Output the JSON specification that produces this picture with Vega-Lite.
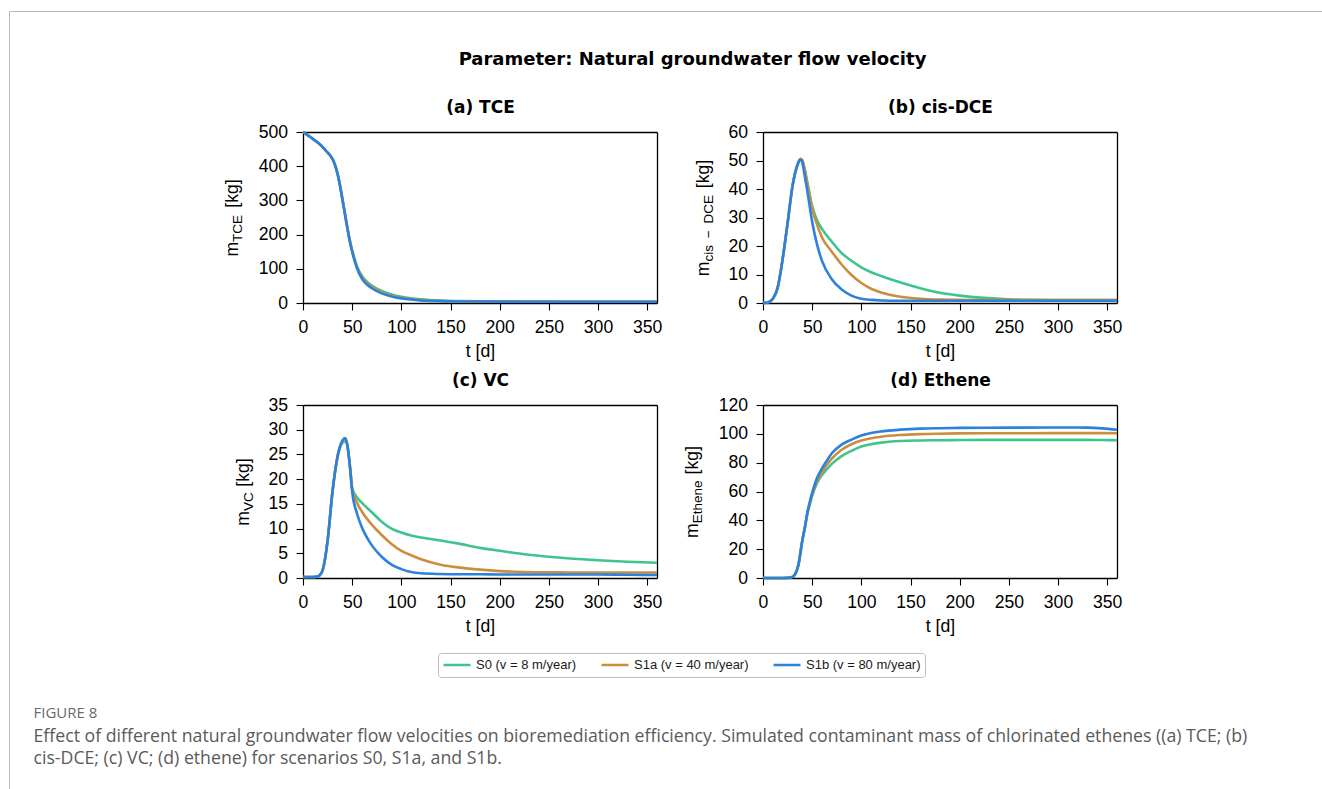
{
  "$schema": "https://vega.github.io/schema/vega-lite/v6.json",
  "width": 1320,
  "height": 790,
  "padding": {"left": 9, "top": 11, "right": 0, "bottom": 0},
  "background": "#ffffff",
  "config": {
    "view": {"stroke": "#b9b9b9", "strokeWidth": 1},
    "axis": {
      "grid": false,
      "domainColor": "#000000",
      "domainWidth": 1.3,
      "tickColor": "#000000",
      "tickWidth": 1.1,
      "tickSize": 7,
      "labelFont": "Liberation Sans",
      "labelFontSize": 17.6,
      "labelColor": "#000000",
      "labelPadding": 8.5,
      "labelFlush": false,
      "labelOverlap": false,
      "labelBound": false,
      "titleFont": "Liberation Sans",
      "titleFontSize": 17.6,
      "titleFontWeight": "normal",
      "titleColor": "#000000",
      "titleBaseline": "alphabetic",
      "titleLimit": 2000
    },
    "legend": {
      "orient": "none",
      "legendX": 429,
      "legendY": 642,
      "direction": "horizontal",
      "columns": 3,
      "symbolType": "stroke",
      "symbolSize": 729,
      "symbolStrokeWidth": 2.5,
      "labelFont": "Liberation Sans",
      "labelFontSize": 13,
      "labelColor": "#1a1a1a",
      "labelOffset": 4,
      "labelLimit": 300,
      "columnPadding": 23,
      "clipHeight": 16,
      "padding": 4,
      "strokeColor": "#bdbdbd",
      "fillColor": "#ffffff",
      "cornerRadius": 3
    }
  },
  "datasets": {
    "tce": [
      {"t":0,"s":"S0","m":500},{"t":5,"s":"S0","m":490},{"t":10,"s":"S0","m":480},{"t":15,"s":"S0","m":469},{"t":20,"s":"S0","m":456},{"t":24,"s":"S0","m":443},{"t":28,"s":"S0","m":430},{"t":30,"s":"S0","m":421},{"t":32,"s":"S0","m":408},{"t":34,"s":"S0","m":390},{"t":36,"s":"S0","m":367},{"t":38,"s":"S0","m":338},{"t":40,"s":"S0","m":305},{"t":42,"s":"S0","m":272},{"t":44,"s":"S0","m":239},{"t":46,"s":"S0","m":207},{"t":48,"s":"S0","m":179},{"t":50,"s":"S0","m":154},{"t":55,"s":"S0","m":107},{"t":60,"s":"S0","m":79},{"t":65,"s":"S0","m":62},{"t":70,"s":"S0","m":51},{"t":80,"s":"S0","m":35},{"t":90,"s":"S0","m":25},{"t":100,"s":"S0","m":18},{"t":110,"s":"S0","m":13.5},{"t":120,"s":"S0","m":10.5},{"t":140,"s":"S0","m":7},{"t":160,"s":"S0","m":5.5},{"t":200,"s":"S0","m":4.5},{"t":250,"s":"S0","m":4},{"t":300,"s":"S0","m":3.5},{"t":360,"s":"S0","m":3.5},
      {"t":0,"s":"S1a","m":500},{"t":5,"s":"S1a","m":490},{"t":10,"s":"S1a","m":480},{"t":15,"s":"S1a","m":469},{"t":20,"s":"S1a","m":456},{"t":24,"s":"S1a","m":443},{"t":28,"s":"S1a","m":430},{"t":30,"s":"S1a","m":421},{"t":32,"s":"S1a","m":408},{"t":34,"s":"S1a","m":390},{"t":36,"s":"S1a","m":367},{"t":38,"s":"S1a","m":338},{"t":40,"s":"S1a","m":305},{"t":42,"s":"S1a","m":272},{"t":44,"s":"S1a","m":238},{"t":46,"s":"S1a","m":206},{"t":48,"s":"S1a","m":177},{"t":50,"s":"S1a","m":152},{"t":55,"s":"S1a","m":104},{"t":60,"s":"S1a","m":75},{"t":65,"s":"S1a","m":58},{"t":70,"s":"S1a","m":47},{"t":80,"s":"S1a","m":31},{"t":90,"s":"S1a","m":21.5},{"t":100,"s":"S1a","m":15.5},{"t":110,"s":"S1a","m":11.5},{"t":120,"s":"S1a","m":8.5},{"t":140,"s":"S1a","m":6},{"t":160,"s":"S1a","m":5},{"t":200,"s":"S1a","m":4},{"t":250,"s":"S1a","m":3.5},{"t":300,"s":"S1a","m":3.5},{"t":360,"s":"S1a","m":3.5},
      {"t":0,"s":"S1b","m":500},{"t":5,"s":"S1b","m":490},{"t":10,"s":"S1b","m":480},{"t":15,"s":"S1b","m":469},{"t":20,"s":"S1b","m":456},{"t":24,"s":"S1b","m":443},{"t":28,"s":"S1b","m":430},{"t":30,"s":"S1b","m":421},{"t":32,"s":"S1b","m":408},{"t":34,"s":"S1b","m":390},{"t":36,"s":"S1b","m":367},{"t":38,"s":"S1b","m":338},{"t":40,"s":"S1b","m":305},{"t":42,"s":"S1b","m":271},{"t":44,"s":"S1b","m":237},{"t":46,"s":"S1b","m":205},{"t":48,"s":"S1b","m":175},{"t":50,"s":"S1b","m":150},{"t":55,"s":"S1b","m":101},{"t":60,"s":"S1b","m":71},{"t":65,"s":"S1b","m":54},{"t":70,"s":"S1b","m":43},{"t":80,"s":"S1b","m":28},{"t":90,"s":"S1b","m":19},{"t":100,"s":"S1b","m":13.5},{"t":110,"s":"S1b","m":10},{"t":120,"s":"S1b","m":7.5},{"t":140,"s":"S1b","m":5.5},{"t":160,"s":"S1b","m":4.5},{"t":200,"s":"S1b","m":4},{"t":250,"s":"S1b","m":3.5},{"t":300,"s":"S1b","m":3.5},{"t":360,"s":"S1b","m":3.5}
    ],
    "dce": [
      {"t":0,"s":"S0","m":0},{"t":5,"s":"S0","m":0.2},{"t":10,"s":"S0","m":1.5},{"t":15,"s":"S0","m":5.5},{"t":20,"s":"S0","m":15.5},{"t":25,"s":"S0","m":28},{"t":30,"s":"S0","m":41},{"t":35,"s":"S0","m":48.5},{"t":38,"s":"S0","m":50.5},{"t":40,"s":"S0","m":50},{"t":42,"s":"S0","m":47.5},{"t":45,"s":"S0","m":42.5},{"t":50,"s":"S0","m":34},{"t":55,"s":"S0","m":29},{"t":60,"s":"S0","m":26},{"t":70,"s":"S0","m":21.5},{"t":80,"s":"S0","m":17.5},{"t":90,"s":"S0","m":14.8},{"t":100,"s":"S0","m":12.5},{"t":110,"s":"S0","m":10.8},{"t":120,"s":"S0","m":9.5},{"t":140,"s":"S0","m":7.2},{"t":160,"s":"S0","m":5.2},{"t":180,"s":"S0","m":3.6},{"t":200,"s":"S0","m":2.6},{"t":225,"s":"S0","m":1.8},{"t":250,"s":"S0","m":1.3},{"t":275,"s":"S0","m":1.1},{"t":300,"s":"S0","m":1},{"t":330,"s":"S0","m":1},{"t":360,"s":"S0","m":1},
      {"t":0,"s":"S1a","m":0},{"t":5,"s":"S1a","m":0.2},{"t":10,"s":"S1a","m":1.5},{"t":15,"s":"S1a","m":5.5},{"t":20,"s":"S1a","m":15.5},{"t":25,"s":"S1a","m":28},{"t":30,"s":"S1a","m":41},{"t":35,"s":"S1a","m":48.5},{"t":38,"s":"S1a","m":50.6},{"t":40,"s":"S1a","m":50},{"t":42,"s":"S1a","m":47.5},{"t":45,"s":"S1a","m":42},{"t":50,"s":"S1a","m":33},{"t":55,"s":"S1a","m":27.5},{"t":60,"s":"S1a","m":23},{"t":70,"s":"S1a","m":18},{"t":80,"s":"S1a","m":13.5},{"t":90,"s":"S1a","m":9.8},{"t":100,"s":"S1a","m":7},{"t":110,"s":"S1a","m":5},{"t":120,"s":"S1a","m":3.7},{"t":140,"s":"S1a","m":2.2},{"t":160,"s":"S1a","m":1.5},{"t":180,"s":"S1a","m":1.2},{"t":200,"s":"S1a","m":1.1},{"t":225,"s":"S1a","m":1},{"t":250,"s":"S1a","m":1},{"t":275,"s":"S1a","m":1},{"t":300,"s":"S1a","m":1},{"t":330,"s":"S1a","m":1},{"t":360,"s":"S1a","m":1},
      {"t":0,"s":"S1b","m":0},{"t":5,"s":"S1b","m":0.2},{"t":10,"s":"S1b","m":1.5},{"t":15,"s":"S1b","m":5.5},{"t":20,"s":"S1b","m":15.5},{"t":25,"s":"S1b","m":28},{"t":30,"s":"S1b","m":41},{"t":35,"s":"S1b","m":48.3},{"t":38,"s":"S1b","m":50.3},{"t":40,"s":"S1b","m":49.3},{"t":42,"s":"S1b","m":45.5},{"t":45,"s":"S1b","m":39.5},{"t":50,"s":"S1b","m":28.5},{"t":55,"s":"S1b","m":20.5},{"t":60,"s":"S1b","m":14.8},{"t":70,"s":"S1b","m":8.3},{"t":80,"s":"S1b","m":4.7},{"t":90,"s":"S1b","m":2.6},{"t":100,"s":"S1b","m":1.5},{"t":110,"s":"S1b","m":1.1},{"t":120,"s":"S1b","m":0.9},{"t":140,"s":"S1b","m":0.8},{"t":160,"s":"S1b","m":0.8},{"t":180,"s":"S1b","m":0.8},{"t":200,"s":"S1b","m":0.8},{"t":225,"s":"S1b","m":0.8},{"t":250,"s":"S1b","m":0.8},{"t":275,"s":"S1b","m":0.8},{"t":300,"s":"S1b","m":0.8},{"t":330,"s":"S1b","m":0.8},{"t":360,"s":"S1b","m":0.8}
    ],
    "vc": [
      {"t":0,"s":"S0","m":0.2},{"t":10,"s":"S0","m":0.2},{"t":15,"s":"S0","m":0.3},{"t":18,"s":"S0","m":0.8},{"t":20,"s":"S0","m":1.6},{"t":25,"s":"S0","m":7.5},{"t":30,"s":"S0","m":17.5},{"t":35,"s":"S0","m":24.3},{"t":40,"s":"S0","m":27.3},{"t":43,"s":"S0","m":27.7},{"t":45,"s":"S0","m":26.8},{"t":48,"s":"S0","m":22},{"t":50,"s":"S0","m":18.2},{"t":55,"s":"S0","m":16.3},{"t":60,"s":"S0","m":15.2},{"t":70,"s":"S0","m":13.3},{"t":80,"s":"S0","m":11.4},{"t":90,"s":"S0","m":10},{"t":100,"s":"S0","m":9.2},{"t":110,"s":"S0","m":8.6},{"t":120,"s":"S0","m":8.2},{"t":140,"s":"S0","m":7.6},{"t":160,"s":"S0","m":6.9},{"t":180,"s":"S0","m":6.1},{"t":200,"s":"S0","m":5.5},{"t":225,"s":"S0","m":4.8},{"t":250,"s":"S0","m":4.3},{"t":275,"s":"S0","m":3.9},{"t":300,"s":"S0","m":3.6},{"t":330,"s":"S0","m":3.3},{"t":360,"s":"S0","m":3.1},
      {"t":0,"s":"S1a","m":0.2},{"t":10,"s":"S1a","m":0.2},{"t":15,"s":"S1a","m":0.3},{"t":18,"s":"S1a","m":0.8},{"t":20,"s":"S1a","m":1.6},{"t":25,"s":"S1a","m":7.5},{"t":30,"s":"S1a","m":17.5},{"t":35,"s":"S1a","m":24.5},{"t":40,"s":"S1a","m":27.6},{"t":43,"s":"S1a","m":28.1},{"t":45,"s":"S1a","m":27},{"t":48,"s":"S1a","m":22.3},{"t":50,"s":"S1a","m":18},{"t":55,"s":"S1a","m":15.2},{"t":60,"s":"S1a","m":13.4},{"t":70,"s":"S1a","m":10.8},{"t":80,"s":"S1a","m":8.7},{"t":90,"s":"S1a","m":6.9},{"t":100,"s":"S1a","m":5.5},{"t":110,"s":"S1a","m":4.6},{"t":120,"s":"S1a","m":3.8},{"t":140,"s":"S1a","m":2.7},{"t":160,"s":"S1a","m":2.1},{"t":180,"s":"S1a","m":1.7},{"t":200,"s":"S1a","m":1.4},{"t":225,"s":"S1a","m":1.2},{"t":250,"s":"S1a","m":1.15},{"t":275,"s":"S1a","m":1.1},{"t":300,"s":"S1a","m":1.1},{"t":330,"s":"S1a","m":1.1},{"t":360,"s":"S1a","m":1.1},
      {"t":0,"s":"S1b","m":0.2},{"t":10,"s":"S1b","m":0.2},{"t":15,"s":"S1b","m":0.3},{"t":18,"s":"S1b","m":0.8},{"t":20,"s":"S1b","m":1.6},{"t":25,"s":"S1b","m":7.5},{"t":30,"s":"S1b","m":17.5},{"t":35,"s":"S1b","m":24.5},{"t":40,"s":"S1b","m":27.8},{"t":43,"s":"S1b","m":28.3},{"t":45,"s":"S1b","m":27},{"t":48,"s":"S1b","m":22},{"t":50,"s":"S1b","m":17.5},{"t":55,"s":"S1b","m":13},{"t":60,"s":"S1b","m":10.2},{"t":70,"s":"S1b","m":6.6},{"t":80,"s":"S1b","m":4.3},{"t":90,"s":"S1b","m":2.7},{"t":100,"s":"S1b","m":1.8},{"t":110,"s":"S1b","m":1.2},{"t":120,"s":"S1b","m":0.95},{"t":140,"s":"S1b","m":0.8},{"t":160,"s":"S1b","m":0.75},{"t":180,"s":"S1b","m":0.75},{"t":200,"s":"S1b","m":0.7},{"t":225,"s":"S1b","m":0.7},{"t":250,"s":"S1b","m":0.7},{"t":275,"s":"S1b","m":0.7},{"t":300,"s":"S1b","m":0.7},{"t":330,"s":"S1b","m":0.65},{"t":360,"s":"S1b","m":0.6}
    ],
    "eth": [
      {"t":0,"s":"S0","m":0},{"t":10,"s":"S0","m":0},{"t":20,"s":"S0","m":0},{"t":25,"s":"S0","m":0.1},{"t":30,"s":"S0","m":0.8},{"t":33,"s":"S0","m":3},{"t":36,"s":"S0","m":9},{"t":40,"s":"S0","m":26},{"t":43,"s":"S0","m":36},{"t":45,"s":"S0","m":44},{"t":48,"s":"S0","m":52},{"t":50,"s":"S0","m":57},{"t":55,"s":"S0","m":66},{"t":60,"s":"S0","m":71.5},{"t":65,"s":"S0","m":75.5},{"t":70,"s":"S0","m":79.2},{"t":80,"s":"S0","m":84.5},{"t":90,"s":"S0","m":88.2},{"t":100,"s":"S0","m":91.2},{"t":110,"s":"S0","m":92.8},{"t":120,"s":"S0","m":93.9},{"t":140,"s":"S0","m":95},{"t":160,"s":"S0","m":95.4},{"t":180,"s":"S0","m":95.6},{"t":200,"s":"S0","m":95.7},{"t":250,"s":"S0","m":95.8},{"t":300,"s":"S0","m":95.8},{"t":330,"s":"S0","m":95.8},{"t":345,"s":"S0","m":95.7},{"t":360,"s":"S0","m":95.6},
      {"t":0,"s":"S1a","m":0},{"t":10,"s":"S1a","m":0},{"t":20,"s":"S1a","m":0},{"t":25,"s":"S1a","m":0.1},{"t":30,"s":"S1a","m":0.8},{"t":33,"s":"S1a","m":3},{"t":36,"s":"S1a","m":9},{"t":40,"s":"S1a","m":26},{"t":43,"s":"S1a","m":36.5},{"t":45,"s":"S1a","m":44.5},{"t":48,"s":"S1a","m":53},{"t":50,"s":"S1a","m":58},{"t":55,"s":"S1a","m":67.5},{"t":60,"s":"S1a","m":73.5},{"t":65,"s":"S1a","m":78.5},{"t":70,"s":"S1a","m":82.8},{"t":80,"s":"S1a","m":89},{"t":90,"s":"S1a","m":92.8},{"t":100,"s":"S1a","m":95.3},{"t":110,"s":"S1a","m":96.9},{"t":120,"s":"S1a","m":98},{"t":140,"s":"S1a","m":99.2},{"t":160,"s":"S1a","m":99.8},{"t":180,"s":"S1a","m":100.1},{"t":200,"s":"S1a","m":100.3},{"t":250,"s":"S1a","m":100.4},{"t":300,"s":"S1a","m":100.5},{"t":330,"s":"S1a","m":100.5},{"t":345,"s":"S1a","m":100.5},{"t":360,"s":"S1a","m":100.4},
      {"t":0,"s":"S1b","m":0},{"t":10,"s":"S1b","m":0},{"t":20,"s":"S1b","m":0},{"t":25,"s":"S1b","m":0.1},{"t":30,"s":"S1b","m":0.8},{"t":33,"s":"S1b","m":3},{"t":36,"s":"S1b","m":9},{"t":40,"s":"S1b","m":26},{"t":43,"s":"S1b","m":37},{"t":45,"s":"S1b","m":45},{"t":48,"s":"S1b","m":54},{"t":50,"s":"S1b","m":59},{"t":55,"s":"S1b","m":69.5},{"t":60,"s":"S1b","m":76},{"t":65,"s":"S1b","m":81.5},{"t":70,"s":"S1b","m":86.5},{"t":80,"s":"S1b","m":92.5},{"t":90,"s":"S1b","m":96},{"t":100,"s":"S1b","m":98.8},{"t":110,"s":"S1b","m":100.6},{"t":120,"s":"S1b","m":101.7},{"t":140,"s":"S1b","m":102.9},{"t":160,"s":"S1b","m":103.6},{"t":180,"s":"S1b","m":103.9},{"t":200,"s":"S1b","m":104.1},{"t":250,"s":"S1b","m":104.3},{"t":300,"s":"S1b","m":104.4},{"t":330,"s":"S1b","m":104.3},{"t":345,"s":"S1b","m":103.8},{"t":360,"s":"S1b","m":102.8}
    ]
  },
  "layer": [
    {
      "data": {"name": "tce"},
      "mark": {"type": "line", "strokeWidth": 2.6, "interpolate": "monotone"},
      "encoding": {
        "x": {"field": "t", "type": "quantitative", "scale": {"domain": [0, 360], "range": [294, 648], "nice": false, "zero": false},
              "axis": {"orient": "bottom", "offset": -498, "values": [0, 50, 100, 150, 200, 250, 300, 350], "title": "t [d]", "titleY": 53.3}},
        "y": {"field": "m", "type": "quantitative", "scale": {"domain": [0, 500], "range": [292, 121], "nice": false},
              "axis": {"orient": "left", "offset": -294, "values": [0, 100, 200, 300, 400, 500], "title": "m\u00a0\u00a0\u00a0\u00a0\u00a0\u00a0\u00a0[kg]", "titleAngle": 270, "titleAlign": "left", "titleX": -66, "titleY": 245.1}},
        "color": {"field": "s", "type": "nominal", "scale": {"domain": ["S0", "S1a", "S1b"], "range": ["#3ec48c", "#cc8d3c", "#2b81dc"]},
                  "legend": {"title": null, "labelExpr": "datum.value == 'S0' ? 'S0 (v = 8 m/year)' : datum.value == 'S1a' ? 'S1a (v = 40 m/year)' : 'S1b (v = 80 m/year)'"}}
      }
    },
    {
      "data": {"name": "tce"},
      "mark": {"type": "point", "opacity": 0},
      "encoding": {
        "x": {"field": "t", "type": "quantitative", "scale": {"domain": [0, 360], "range": [294, 648], "nice": false, "zero": false},
              "axis": {"orient": "top", "offset": -121, "ticks": false, "labels": false, "title": "(a) TCE", "titleFont": "DejaVu Sans", "titleFontWeight": "bold", "titleFontSize": 17, "titleY": -20}},
        "y": {"field": "m", "type": "quantitative", "scale": {"domain": [0, 500], "range": [292, 121], "nice": false},
              "axis": {"orient": "right", "offset": -672, "ticks": false, "labels": false, "title": "TCE", "titleFontSize": 13.5, "titleAngle": 270, "titleAlign": "left", "titleX": -415.5, "titleY": 230.4}}
      }
    },
    {
      "data": {"name": "dce"},
      "mark": {"type": "line", "strokeWidth": 2.6, "interpolate": "monotone"},
      "encoding": {
        "x": {"field": "t", "type": "quantitative", "scale": {"domain": [0, 360], "range": [754, 1108], "nice": false, "zero": false},
              "axis": {"orient": "bottom", "offset": -498, "values": [0, 50, 100, 150, 200, 250, 300, 350], "title": "t [d]", "titleY": 53.3}},
        "y": {"field": "m", "type": "quantitative", "scale": {"domain": [0, 60], "range": [292, 121], "nice": false},
              "axis": {"orient": "left", "offset": -754, "values": [0, 10, 20, 30, 40, 50, 60], "title": "m\u00a0\u00a0\u00a0\u00a0\u00a0\u00a0\u00a0\u00a0\u00a0\u00a0\u00a0\u00a0\u00a0\u00a0\u00a0[kg]", "titleAngle": 270, "titleAlign": "left", "titleX": -54.6, "titleY": 264.7}},
        "color": {"field": "s", "type": "nominal", "scale": {"domain": ["S0", "S1a", "S1b"], "range": ["#3ec48c", "#cc8d3c", "#2b81dc"]},
                  "legend": {"title": null, "labelExpr": "datum.value == 'S0' ? 'S0 (v = 8 m/year)' : datum.value == 'S1a' ? 'S1a (v = 40 m/year)' : 'S1b (v = 80 m/year)'"}}
      }
    },
    {
      "data": {"name": "dce"},
      "mark": {"type": "point", "opacity": 0},
      "encoding": {
        "x": {"field": "t", "type": "quantitative", "scale": {"domain": [0, 360], "range": [754, 1108], "nice": false, "zero": false},
              "axis": {"orient": "top", "offset": -121, "ticks": false, "labels": false, "title": "(b) cis-DCE", "titleFont": "DejaVu Sans", "titleFontWeight": "bold", "titleFontSize": 17, "titleY": -20}},
        "y": {"field": "m", "type": "quantitative", "scale": {"domain": [0, 60], "range": [292, 121], "nice": false},
              "axis": {"orient": "right", "offset": -212, "ticks": false, "labels": false, "title": "cis\u2002\u2212\u2002DCE", "titleFontSize": 13.5, "titleAngle": 270, "titleAlign": "left", "titleX": -404.1, "titleY": 250}}
      }
    },
    {
      "data": {"name": "vc"},
      "mark": {"type": "line", "strokeWidth": 2.6, "interpolate": "monotone"},
      "encoding": {
        "x": {"field": "t", "type": "quantitative", "scale": {"domain": [0, 360], "range": [294, 648], "nice": false, "zero": false},
              "axis": {"orient": "bottom", "offset": -223, "values": [0, 50, 100, 150, 200, 250, 300, 350], "title": "t [d]", "titleY": 53.3}},
        "y": {"field": "m", "type": "quantitative", "scale": {"domain": [0, 35], "range": [567, 394], "nice": false},
              "axis": {"orient": "left", "offset": -294, "values": [0, 5, 10, 15, 20, 25, 30, 35], "title": "m\u00a0\u00a0\u00a0\u00a0\u00a0[kg]", "titleAngle": 270, "titleAlign": "left", "titleX": -54.6, "titleY": 514.3}},
        "color": {"field": "s", "type": "nominal", "scale": {"domain": ["S0", "S1a", "S1b"], "range": ["#3ec48c", "#cc8d3c", "#2b81dc"]},
                  "legend": {"title": null, "labelExpr": "datum.value == 'S0' ? 'S0 (v = 8 m/year)' : datum.value == 'S1a' ? 'S1a (v = 40 m/year)' : 'S1b (v = 80 m/year)'"}}
      }
    },
    {
      "data": {"name": "vc"},
      "mark": {"type": "point", "opacity": 0},
      "encoding": {
        "x": {"field": "t", "type": "quantitative", "scale": {"domain": [0, 360], "range": [294, 648], "nice": false, "zero": false},
              "axis": {"orient": "top", "offset": -394, "ticks": false, "labels": false, "title": "(c) VC", "titleFont": "DejaVu Sans", "titleFontWeight": "bold", "titleFontSize": 17, "titleY": -20}},
        "y": {"field": "m", "type": "quantitative", "scale": {"domain": [0, 35], "range": [567, 394], "nice": false},
              "axis": {"orient": "right", "offset": -672, "ticks": false, "labels": false, "title": "VC", "titleFontSize": 13.5, "titleAngle": 270, "titleAlign": "left", "titleX": -404.1, "titleY": 499.6}}
      }
    },
    {
      "data": {"name": "eth"},
      "mark": {"type": "line", "strokeWidth": 2.6, "interpolate": "monotone"},
      "encoding": {
        "x": {"field": "t", "type": "quantitative", "scale": {"domain": [0, 360], "range": [754, 1108], "nice": false, "zero": false},
              "axis": {"orient": "bottom", "offset": -223, "values": [0, 50, 100, 150, 200, 250, 300, 350], "title": "t [d]", "titleY": 53.3}},
        "y": {"field": "m", "type": "quantitative", "scale": {"domain": [0, 120], "range": [567, 394], "nice": false},
              "axis": {"orient": "left", "offset": -754, "values": [0, 20, 40, 60, 80, 100, 120], "title": "m\u00a0\u00a0\u00a0\u00a0\u00a0\u00a0\u00a0\u00a0\u00a0\u00a0[kg]", "titleAngle": 270, "titleAlign": "left", "titleX": -66, "titleY": 526.5}},
        "color": {"field": "s", "type": "nominal", "scale": {"domain": ["S0", "S1a", "S1b"], "range": ["#3ec48c", "#cc8d3c", "#2b81dc"]},
                  "legend": {"title": null, "labelExpr": "datum.value == 'S0' ? 'S0 (v = 8 m/year)' : datum.value == 'S1a' ? 'S1a (v = 40 m/year)' : 'S1b (v = 80 m/year)'"}}
      }
    },
    {
      "data": {"name": "eth"},
      "mark": {"type": "point", "opacity": 0},
      "encoding": {
        "x": {"field": "t", "type": "quantitative", "scale": {"domain": [0, 360], "range": [754, 1108], "nice": false, "zero": false},
              "axis": {"orient": "top", "offset": -394, "ticks": false, "labels": false, "title": "(d) Ethene", "titleFont": "DejaVu Sans", "titleFontWeight": "bold", "titleFontSize": 17, "titleY": -20}},
        "y": {"field": "m", "type": "quantitative", "scale": {"domain": [0, 120], "range": [567, 394], "nice": false},
              "axis": {"orient": "right", "offset": -212, "ticks": false, "labels": false, "title": "Ethene", "titleFontSize": 13.5, "titleAngle": 270, "titleAlign": "left", "titleX": -415.5, "titleY": 511.8}}
      }
    },
    {
      "data": {"name": "tce"},
      "mark": {"type": "point", "opacity": 0},
      "encoding": {
        "x": {"field": "t", "type": "quantitative", "scale": {"domain": [0, 360], "range": [294, 648], "nice": false, "zero": false},
              "axis": {"orient": "top", "offset": 0, "domain": false, "ticks": false, "labels": false, "title": "Parameter: Natural groundwater flow velocity", "titleFont": "DejaVu Sans", "titleFontWeight": "bold", "titleFontSize": 18, "titleAlign": "center", "titleX": 683, "titleY": 53.5}},
        "y": {"field": "m", "type": "quantitative", "scale": {"domain": [0, 500], "range": [292, 121], "nice": false},
              "axis": {"orient": "left", "offset": 0, "domain": false, "ticks": false, "labels": false, "title": "FIGURE 8", "titleFont": "Open Sans", "titleFontSize": 15, "titleColor": "#6a6a6a", "titleAngle": 0, "titleAlign": "left", "titleX": 24, "titleY": 706}}
      }
    },
    {
      "data": {"name": "tce"},
      "mark": {"type": "point", "opacity": 0},
      "encoding": {
        "x": {"field": "t", "type": "quantitative", "scale": {"domain": [0, 360], "range": [294, 648], "nice": false, "zero": false},
              "axis": {"orient": "bottom", "offset": 0, "domain": false, "ticks": false, "labels": false,
                       "title": ["Effect of different natural groundwater flow velocities on bioremediation efficiency. Simulated contaminant mass of chlorinated ethenes ((a) TCE; (b)", "cis-DCE; (c) VC; (d) ethene) for scenarios S0, S1a, and S1b."],
                       "titleFont": "Open Sans", "titleFontSize": 17.7, "titleColor": "#5a5a5a", "titleAlign": "left", "titleLineHeight": 22.5, "titleX": 24, "titleY": -60}},
        "y": {"field": "m", "type": "quantitative", "scale": {"domain": [0, 500], "range": [292, 121], "nice": false}, "axis": null}
      }
    }
  ],
  "resolve": {"scale": {"x": "independent", "y": "independent", "color": "shared"}, "axis": {"x": "independent", "y": "independent"}}
}
